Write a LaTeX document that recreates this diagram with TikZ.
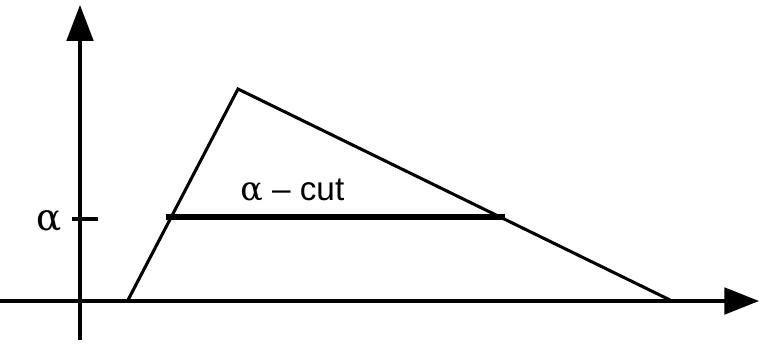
\documentclass[tikz,border=0pt]{standalone}
\usepackage{fontspec}
\setmainfont{Liberation Sans}
\newfontfamily\symfont{DejaVu Serif}
\usetikzlibrary{arrows.meta,positioning,calc}

\begin{document}
\begin{tikzpicture}[x=0.75pt,y=-0.75pt]
\useasboundingbox (0,0) rectangle (759,346);
% Axes
\coordinate (o) at (80,301);
\coordinate (xend) at (759,301);
\coordinate (xstart) at (0,301);
\coordinate (ystart) at (80,340);
\coordinate (yend) at (80,5);
\draw[line width=2.3pt, -{Triangle[length=26pt,width=20pt]}] (xstart) -- (xend);
\draw[line width=2.3pt, -{Triangle[length=27pt,width=20pt]}] (ystart) -- (yend);
% Triangle
\coordinate (a) at (128,300);
\coordinate (b) at (238,89);
\coordinate (c) at (670,300);
\draw[line width=2.3pt, line join=miter] (a) -- (b) -- (c);
% alpha level tick
\coordinate (t1) at (72,219);
\coordinate (t2) at (98,219);
\draw[line width=2.3pt] (t1) -- (t2);
\node[font=\fontsize{28}{28}\selectfont\symfont, anchor=east, inner sep=0pt] (alab) at (62,221) {α};
% alpha cut
\coordinate (c1) at (166,217);
\coordinate (c2) at (505,217);
\draw[line width=5.2pt] (c1) -- (c2);
\node[font=\fontsize{25}{25}\selectfont, anchor=south west, inner sep=0pt] (cutlab) at (240,202) {{\symfont\fontsize{25}{25}\selectfont α} -- cut};
\end{tikzpicture}
\end{document}
